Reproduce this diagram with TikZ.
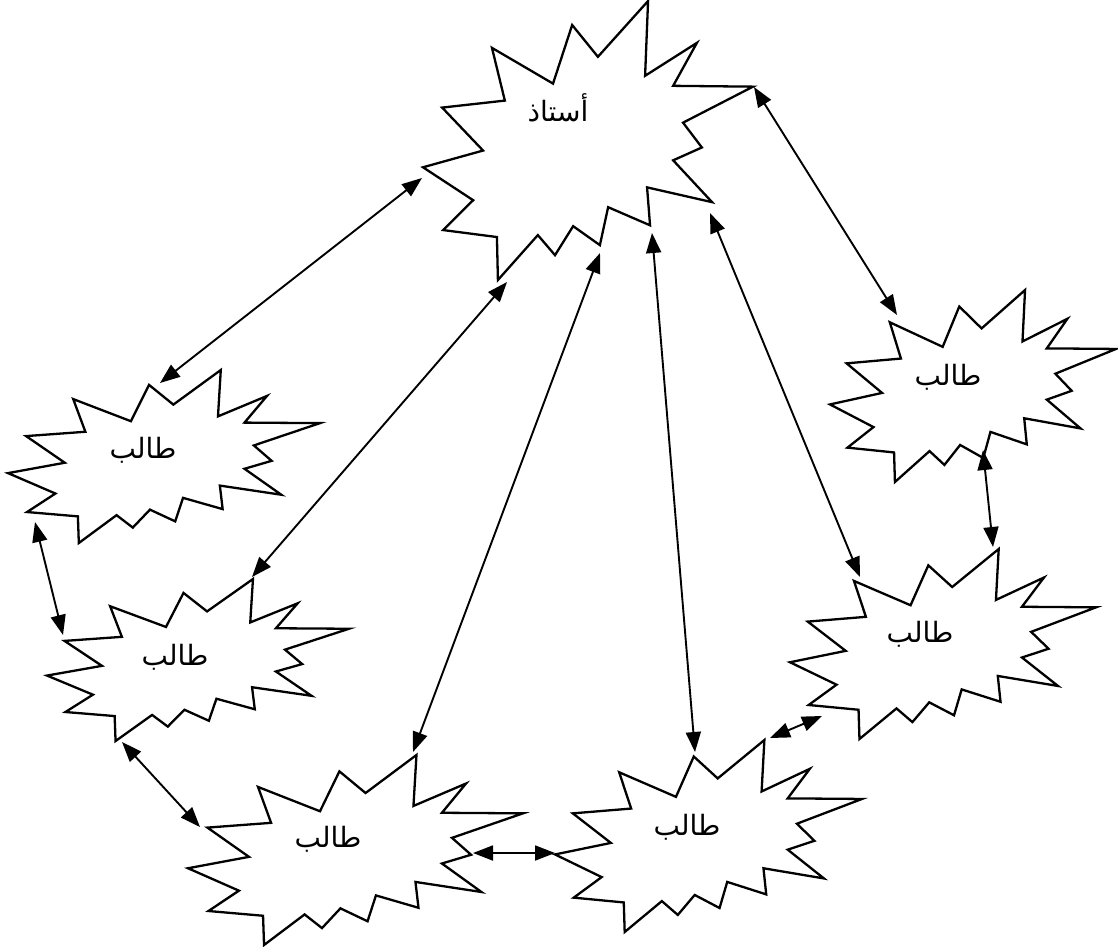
\documentclass[tikz,border=0pt]{standalone}
\usepackage{fontspec}
\usetikzlibrary{arrows.meta}
\TeXXeTstate=1
\newfontfamily\arabicfont[Script=Arabic]{DejaVu Sans}

\tikzset{
  burst/.style={draw, line width=2.3pt, fill=white},
  lbl/.style={font=\arabicfont\fontsize{28}{33}\selectfont, inner sep=0pt},
  link/.style={line width=1.9pt,
    {Triangle[length=20pt,width=15pt]}-{Triangle[length=20pt,width=15pt]}},
}

% Explosion outline in a unit box, placed at (#1,#2) with size #3 x #4
\newcommand\burstshape[4]{%
  \begin{scope}[shift={(#1,#2)}, xscale=#3, yscale=#4]
    \draw[burst] (0.682,0.000) -- (0.673,0.268) -- (0.830,0.150) -- (0.758,0.304)
      -- (1.000,0.307) -- (0.788,0.436) -- (0.845,0.525) -- (0.758,0.571)
      -- (0.876,0.721) -- (0.679,0.668) -- (0.688,0.804) -- (0.561,0.739)
      -- (0.536,0.875) -- (0.455,0.807) -- (0.400,0.911) -- (0.348,0.839)
      -- (0.227,1.000) -- (0.224,0.846) -- (0.061,0.821) -- (0.152,0.714)
      -- (0.000,0.596) -- (0.182,0.536) -- (0.058,0.382) -- (0.248,0.357)
      -- (0.209,0.168) -- (0.394,0.296) -- (0.452,0.086) -- (0.530,0.200) -- cycle;
  \end{scope}}

\begin{document}
\begin{tikzpicture}[x=1pt, y=-1pt]
  \useasboundingbox (0,0) rectangle (1118,946);

  % outlines
  \burstshape{423}{1}{330}{279}
  \burstshape{8}{370}{312}{173}
  \burstshape{830}{290}{286}{192}
  \burstshape{47}{579}{302}{162}
  \burstshape{188}{755}{335}{190}
  \burstshape{555}{740}{307}{192}
  \burstshape{790}{549}{306}{190}

  % labels
  \node[lbl] (teacher) at (558,108) {\beginR أستاذ\endR};
  \node[lbl] (s1) at (143,450) {\beginR طالب\endR};
  \node[lbl] (s2) at (948,377) {\beginR طالب\endR};
  \node[lbl] (s3) at (175,657) {\beginR طالب\endR};
  \node[lbl] (s4) at (328,839) {\beginR طالب\endR};
  \node[lbl] (s5) at (687,827) {\beginR طالب\endR};
  \node[lbl] (s6) at (920,634) {\beginR طالب\endR};

  % connector ends on the outlines
  \coordinate (t-s1) at (422,178);
  \coordinate (t-s3) at (507,282);
  \coordinate (t-s4) at (600,253);
  \coordinate (t-s5) at (652,233);
  \coordinate (t-s6) at (710,213);
  \coordinate (t-s2) at (754,87);
  \coordinate (s1-t) at (160,383);
  \coordinate (s3-t) at (252,577);
  \coordinate (s4-t) at (413,752);
  \coordinate (s5-t) at (695,752);
  \coordinate (s6-t) at (860,577);
  \coordinate (s2-t) at (897,315);
  \coordinate (s1-s3) at (35,522);
  \coordinate (s3-s1) at (63,635);
  \coordinate (s3-s4) at (122,742);
  \coordinate (s4-s3) at (200,827);
  \coordinate (s4-s5) at (473,853);
  \coordinate (s5-s4) at (555,853);
  \coordinate (s5-s6) at (770,738);
  \coordinate (s6-s5) at (822,716);
  \coordinate (s2-s6) at (983,450);
  \coordinate (s6-s2) at (993,547);

  % connectors
  \draw[link] (t-s1) -- (s1-t);
  \draw[link] (t-s3) -- (s3-t);
  \draw[link] (t-s4) -- (s4-t);
  \draw[link] (t-s5) -- (s5-t);
  \draw[link] (t-s6) -- (s6-t);
  \draw[link] (t-s2) -- (s2-t);
  \draw[link] (s1-s3) -- (s3-s1);
  \draw[link] (s3-s4) -- (s4-s3);
  \draw[link] (s4-s5) -- (s5-s4);
  \draw[link] (s5-s6) -- (s6-s5);
  \draw[link] (s2-s6) -- (s6-s2);
\end{tikzpicture}
\end{document}
